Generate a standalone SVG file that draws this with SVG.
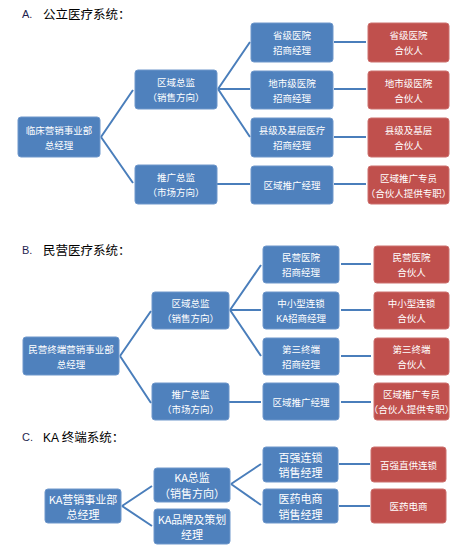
<svg xmlns="http://www.w3.org/2000/svg" width="456" height="552" viewBox="0 0 456 552">
<style>
.b{fill:#4F81BD;stroke:#6E97CB;stroke-width:1}
.r{fill:#C0504D;stroke:#CC716E;stroke-width:1}
.t{fill:#fff;font-family:"Noto Sans CJK SC","Noto Sans",sans-serif;font-size:9.5px;text-anchor:middle;dominant-baseline:central}
.tl{font-size:11px}
.h{fill:#000;font-family:"Noto Sans CJK SC","Noto Sans",sans-serif;font-size:12.5px}
.hl{fill:#1F1F4F;font-family:"Liberation Sans",Arial,sans-serif;font-size:11px}
.c{stroke:#4A7EBB;stroke-width:2;fill:none}
</style>
<g id="titles">
<text class="hl" x="22" y="18">A.</text><text class="h" x="43" y="19">公立医疗系统：</text>
<text class="hl" x="22" y="254">B.</text><text class="h" x="43" y="255">民营医疗系统：</text>
<text class="hl" x="22" y="441">C.</text><text class="h" x="43" y="442"><tspan font-family="Liberation Sans,Arial,sans-serif" font-size="12">KA</tspan> 终端系统：</text>
</g>
<g id="connectors">
<path class="c" d="M101,137 L133,90 M101,137 L133,183 M218,89 L250,42 M218,89 L250,89 M218,89 L250,137 M217,184 L250,184 M334,42 L366,42 M334,89 L366,89 M334,137 L366,137 M334,184 L366,184"/>
<path class="c" d="M120,356 L151,311 M120,356 L151,403 M230,310 L261,265 M230,310 L261,310 M230,310 L261,356 M229,402 L261,402 M341,264 L371,264 M341,310 L371,310 M341,356 L371,356 M341,402 L371,402"/>
<path class="c" d="M122,506 L152,486 M122,506 L152,526 M231,484 L261,464 M231,484 L261,505 M339,464 L370,464 M339,506 L370,506"/>
</g>
<g id="a_root"><rect class="b" x="18" y="117" width="82" height="40" rx="3"/><text class="t" x="59" y="129.5">临床营销事业部</text><text class="t" x="59" y="144.5">总经理</text></g>
<g id="a_sales"><rect class="b" x="135" y="70" width="82" height="39" rx="3"/><text class="t" x="176" y="82">区域总监</text><text class="t" x="176" y="97">（销售方向）</text></g>
<g id="a_promo"><rect class="b" x="135" y="165" width="82" height="39" rx="3"/><text class="t" x="176" y="177">推广总监</text><text class="t" x="176" y="192">（市场方向）</text></g>
<g id="a_m1"><rect class="b" x="251" y="23" width="82" height="39" rx="3"/><text class="t" x="292" y="35">省级医院</text><text class="t" x="292" y="50">招商经理</text></g>
<g id="a_m2"><rect class="b" x="251" y="71" width="82" height="38" rx="3"/><text class="t" x="292" y="82.5">地市级医院</text><text class="t" x="292" y="97.5">招商经理</text></g>
<g id="a_m3"><rect class="b" x="251" y="118" width="82" height="39" rx="3"/><text class="t" x="292" y="130">县级及基层医疗</text><text class="t" x="292" y="145">招商经理</text></g>
<g id="a_m4"><rect class="b" x="251" y="166" width="82" height="38" rx="3"/><text class="t" x="292" y="185">区域推广经理</text></g>
<g id="a_p1"><rect class="r" x="368" y="23" width="81" height="39" rx="3"/><text class="t" x="408.5" y="35">省级医院</text><text class="t" x="408.5" y="50">合伙人</text></g>
<g id="a_p2"><rect class="r" x="368" y="71" width="81" height="38" rx="3"/><text class="t" x="408.5" y="82.5">地市级医院</text><text class="t" x="408.5" y="97.5">合伙人</text></g>
<g id="a_p3"><rect class="r" x="368" y="118" width="81" height="39" rx="3"/><text class="t" x="408.5" y="130">县级及基层</text><text class="t" x="408.5" y="145">合伙人</text></g>
<g id="a_p4"><rect class="r" x="368" y="166" width="81" height="38" rx="3"/><text class="t" x="408.5" y="177.5">区域推广专员</text><text class="t" x="408.5" y="192.5" font-size="8.5">（合伙人提供专职）</text></g>

<g id="b_root"><rect class="b" x="23" y="337" width="96" height="38" rx="3"/><text class="t" x="71" y="348.5" font-size="9">民营终端营销事业部</text><text class="t" x="71" y="363.5">总经理</text></g>
<g id="b_sales"><rect class="b" x="152" y="292" width="77" height="37" rx="3"/><text class="t" x="190.5" y="303">区域总监</text><text class="t" x="190.5" y="318">（销售方向）</text></g>
<g id="b_promo"><rect class="b" x="152" y="383" width="77" height="37" rx="3"/><text class="t" x="190.5" y="394">推广总监</text><text class="t" x="190.5" y="409">（市场方向）</text></g>
<g id="b_m1"><rect class="b" x="263" y="246" width="76" height="37" rx="3"/><text class="t" x="301" y="257">民营医院</text><text class="t" x="301" y="272">招商经理</text></g>
<g id="b_m2"><rect class="b" x="263" y="292" width="76" height="37" rx="3"/><text class="t" x="301" y="303">中小型连锁</text><text class="t" x="301" y="318">KA招商经理</text></g>
<g id="b_m3"><rect class="b" x="263" y="338" width="76" height="37" rx="3"/><text class="t" x="301" y="349">第三终端</text><text class="t" x="301" y="364">招商经理</text></g>
<g id="b_m4"><rect class="b" x="263" y="383" width="76" height="37" rx="3"/><text class="t" x="301" y="401.5">区域推广经理</text></g>
<g id="b_p1"><rect class="r" x="374" y="246" width="75" height="37" rx="3"/><text class="t" x="411.5" y="257">民营医院</text><text class="t" x="411.5" y="272">合伙人</text></g>
<g id="b_p2"><rect class="r" x="374" y="292" width="75" height="37" rx="3"/><text class="t" x="411.5" y="303">中小型连锁</text><text class="t" x="411.5" y="318">合伙人</text></g>
<g id="b_p3"><rect class="r" x="374" y="338" width="75" height="37" rx="3"/><text class="t" x="411.5" y="349">第三终端</text><text class="t" x="411.5" y="364">合伙人</text></g>
<g id="b_p4"><rect class="r" x="374" y="383" width="75" height="37" rx="3"/><text class="t" x="411.5" y="394">区域推广专员</text><text class="t" x="411.5" y="408.5" font-size="7.8">（合伙人提供专职）</text></g>

<g id="c_root"><rect class="b" x="45" y="489" width="76" height="34" rx="3"/><text class="t tl" x="83" y="498.5">KA营销事业部</text><text class="t tl" x="83" y="514">总经理</text></g>
<g id="c_sales"><rect class="b" x="154" y="468" width="76" height="34" rx="3"/><text class="t tl" x="192" y="477">KA总监</text><text class="t tl" x="192" y="493">（销售方向）</text></g>
<g id="c_brand"><rect class="b" x="154" y="509" width="76" height="35" rx="3"/><text class="t tl" x="192" y="518.5">KA品牌及策划</text><text class="t tl" x="192" y="534">经理</text></g>
<g id="c_m1"><rect class="b" x="263" y="447" width="75" height="35" rx="3"/><text class="t tl" x="300.5" y="456.5">百强连锁</text><text class="t tl" x="300.5" y="472">销售经理</text></g>
<g id="c_m2"><rect class="b" x="263" y="489" width="75" height="34" rx="3"/><text class="t tl" x="300.5" y="498">医药电商</text><text class="t tl" x="300.5" y="514">销售经理</text></g>
<g id="c_p1"><rect class="r" x="371" y="447" width="75" height="35" rx="3"/><text class="t" x="408.5" y="464.5" font-size="11.5">百强直供连锁</text></g>
<g id="c_p2"><rect class="r" x="371" y="489" width="75" height="34" rx="3"/><text class="t" x="408.5" y="506" font-size="11.5">医药电商</text></g>
</svg>
